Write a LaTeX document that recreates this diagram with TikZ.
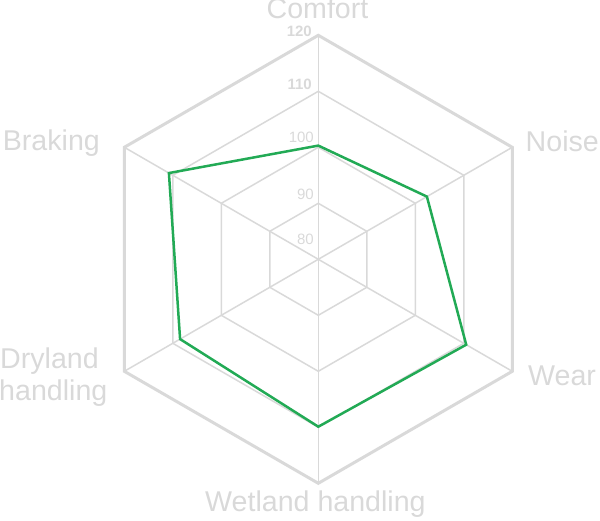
\documentclass[tikz,border=0pt]{standalone}
\usepackage{fontspec}
\setmainfont{Liberation Sans}
\definecolor{gridgray}{RGB}{217,217,217}
\definecolor{txtgray}{RGB}{217,217,217}
\definecolor{datagreen}{RGB}{34,170,85}
\begin{document}
\begin{tikzpicture}[x=1pt,y=1pt,
  axislabel/.style={text=txtgray, font=\fontsize{28.6}{32}\selectfont, inner sep=0pt},
  ticklabel/.style={text=txtgray, font=\fontsize{15}{18}\selectfont, inner sep=0pt, anchor=base east},
  boldtick/.style={ticklabel, font=\fontsize{15}{18}\selectfont\bfseries},
  ring/.style={draw=gridgray, line width=1.5pt},
  outerring/.style={draw=gridgray, line width=3pt, line join=miter},
  spoke/.style={draw=gridgray, line width=1.5pt},
  data/.style={draw=datagreen, line width=2.5pt, line join=miter}]
\useasboundingbox (0,0) rectangle (600,520);
\begin{scope}[shift={(318.3,260.7)}]
  \coordinate (C) at (0,0);
  \foreach \i/\a in {1/90,2/30,3/-30,4/-90,5/-150,6/150}{
    \coordinate (o\i) at (\a:224);
  }
  \foreach \r in {56,112,168}{
    \draw[ring] (90:\r) -- (30:\r) -- (-30:\r) -- (-90:\r) -- (-150:\r) -- (150:\r) -- cycle;
  }
  \draw[outerring] (o1) -- (o2) -- (o3) -- (o4) -- (o5) -- (o6) -- cycle;
  \foreach \i in {1,...,6}{
    \draw[spoke] (C) -- (o\i);
  }
  \coordinate (d1) at (90:113.7);
  \coordinate (d2) at (30:125.4);
  \coordinate (d3) at (-30:170.8);
  \coordinate (d4) at (-90:167.4);
  \coordinate (d5) at (-150:159.6);
  \coordinate (d6) at (150:172.5);
\end{scope}
% tick labels
\node[boldtick] (t120) at (312,483) {120};
\node[boldtick] (t110) at (312,430) {110};
\node[ticklabel] (t100) at (314,377) {100};
\node[ticklabel] (t90) at (314,320) {90};
\node[ticklabel] (t80) at (314,275) {80};
% data polygon
\draw[data] (d1) -- (d2) -- (d3) -- (d4) -- (d5) -- (d6) -- cycle;
% axis labels
\node[axislabel, anchor=base] (lcomfort) at (317.5,501) {Comfort};
\node[axislabel, anchor=base west] (lnoise) at (525.5,368.3) {Noise};
\node[axislabel, anchor=base west] (lwear) at (528,135) {Wear};
\node[axislabel, anchor=base west] (lwet) at (205,8.3) {Wetland handling};
\node[axislabel, anchor=base west] (lbrake) at (2.7,369) {Braking};
\node[axislabel, anchor=base west] (ldry) at (0,151.7) {Dryland};
\node[axislabel, anchor=base west] (ldry2) at (-1,120) {handling};
\end{tikzpicture}
\end{document}
